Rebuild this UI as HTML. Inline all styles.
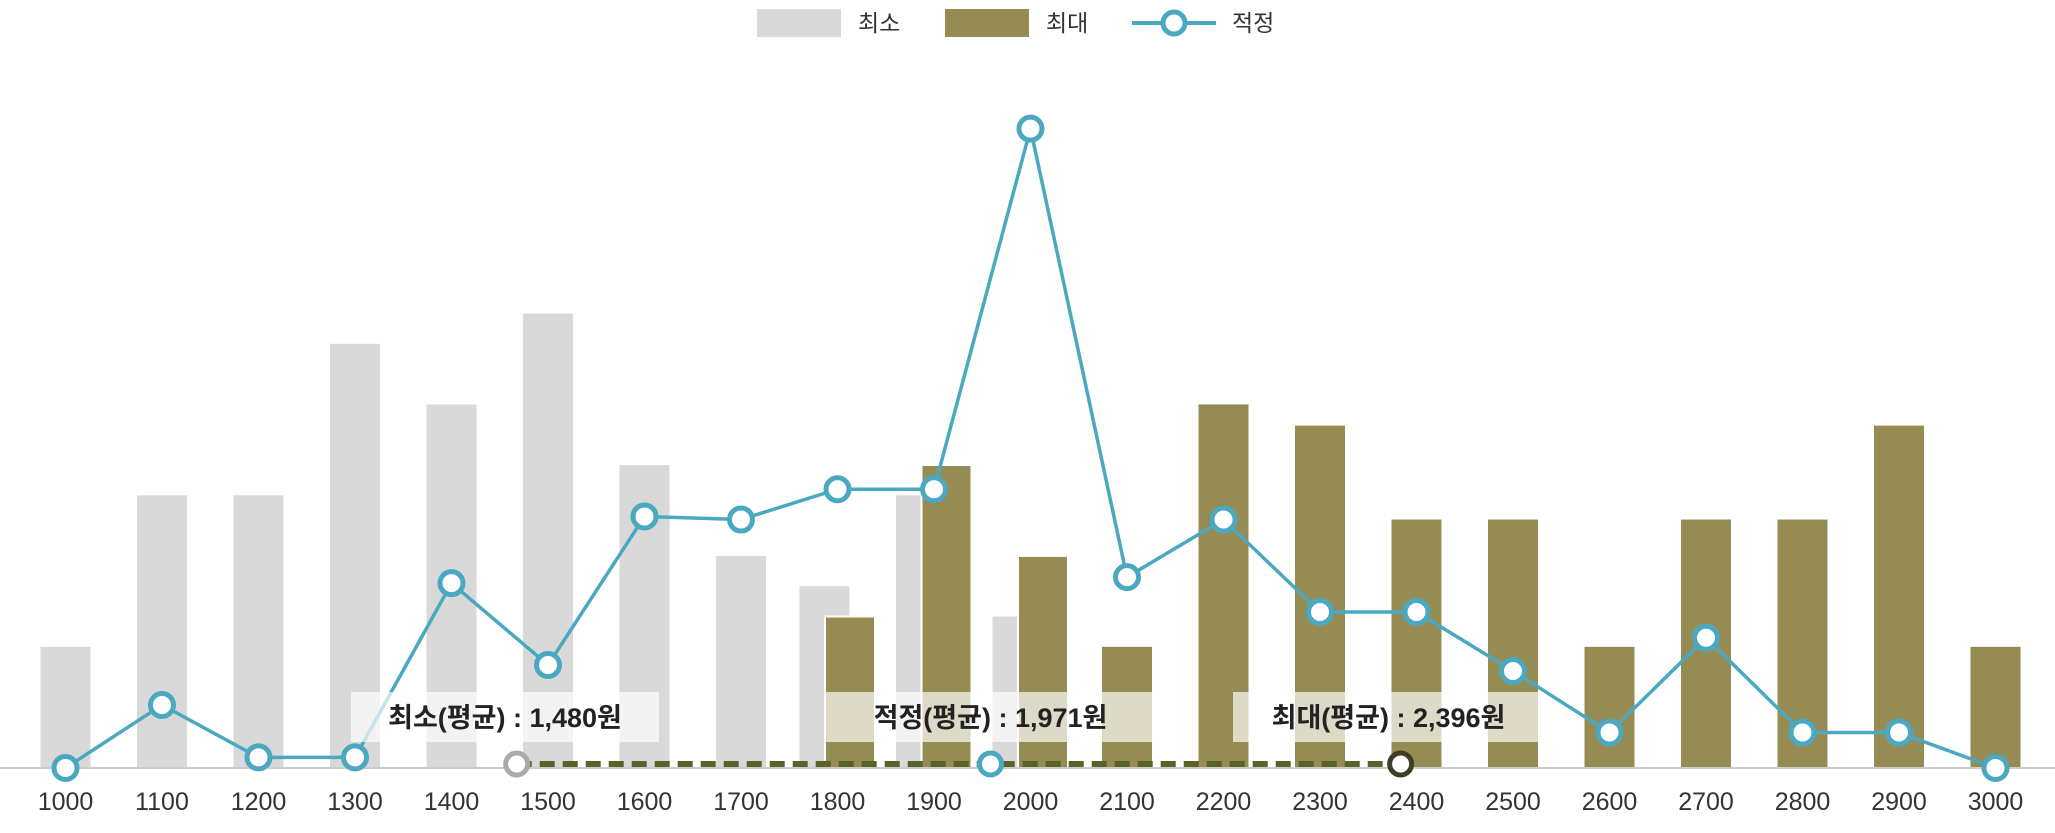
<!DOCTYPE html>
<html><head><meta charset="utf-8">
<style>
html,body{margin:0;padding:0;background:#fff;}
svg{display:block;font-family:"Liberation Sans","Noto Sans CJK KR",sans-serif;}
</style></head>
<body>
<svg id="chart" width="2055" height="833" viewBox="0 0 2055 833" xmlns="http://www.w3.org/2000/svg">
  <g>
    <rect x="757" y="9" width="84" height="28" fill="#d9d9d9"/>
    <text x="858" y="31" font-size="23" fill="#333">최소</text>
    <rect x="945" y="9" width="84" height="28" fill="#978b54"/>
    <text x="1046" y="31" font-size="23" fill="#333">최대</text>
    <line x1="1132" y1="23" x2="1216" y2="23" stroke="#4aa8c0" stroke-width="4"/>
    <circle cx="1174" cy="23" r="11" fill="#fff" stroke="#4aa8c0" stroke-width="5"/>
    <text x="1232" y="31" font-size="23" fill="#333">적정</text>
  </g>
  <g id="bars"></g>
  <line x1="0" y1="768" x2="2055" y2="768" stroke="#ccc" stroke-width="2"/>
  <g id="ticks"></g>
  <g id="avg"></g>
  <g id="line"></g>
  <g id="labels"></g>
</svg>
<script>
const categories = [1000,1100,1200,1300,1400,1500,1600,1700,1800,1900,2000,2100,2200,2300,2400,2500,2600,2700,2800,2900,3000];
const minValues = [4,9,9,14,12,15,10,7,6,9,5,null,null,null,null,null,null,null,null,null,null];
const maxValues = [null,null,null,null,null,null,null,null,5,10,7,4,12,11.3,8.2,8.2,4,8.2,8.2,11.3,4];
const optimalValues = [0,2.08,0.35,0.35,6.1,3.4,8.3,8.2,9.2,9.2,21.1,6.3,8.2,5.15,5.15,3.2,1.17,4.3,1.17,1.17,0];
const averageLabels = ["최소(평균) : 1,480원","적정(평균) : 1,971원","최대(평균) : 2,396원"];
const averageValues = [1480,1971,2396];

const NS = "http://www.w3.org/2000/svg";
const x0 = 65.5, step = 96.5, base = 768, unit = 30.3;
function xScale(i){ return x0 + i*step; }
function xVal(v){ return x0 + (v-1000)/100*step - 12; }
function yScale(v){ return base - v*unit; }
function mk(tag, attrs, parent){
  const e = document.createElementNS(NS, tag);
  for (const k in attrs) e.setAttribute(k, attrs[k]);
  parent.appendChild(e); return e;
}
const bars = document.getElementById('bars');
categories.forEach((c,i)=>{
  const cx = xScale(i);
  const both = minValues[i]!=null && maxValues[i]!=null;
  if (minValues[i]!=null){
    const r = mk('rect',{x: both? cx-38 : cx-25, y: yScale(minValues[i]), width:50, height: minValues[i]*unit, fill:'#d9d9d9'}, bars);
    
    
  }
  if (maxValues[i]!=null){
    const r = mk('rect',{x: both? cx-12.5 : cx-25, y: yScale(maxValues[i]), width:50, height: maxValues[i]*unit, fill:'#978b54', stroke: both?'#fff':'none', 'stroke-width':2}, bars);
    
    
  }
});
const ticks = document.getElementById('ticks');
categories.forEach((c,i)=>{
  const t = mk('text',{x: xScale(i), y: 810, 'text-anchor':'middle', 'font-size':25, fill:'#333'}, ticks);
  t.textContent = c;
  
  
});
// averages dashed line and markers
const avg = document.getElementById('avg');
const ay = 764;
const dl = mk('line',{x1: xVal(averageValues[0]), y1: ay, x2: xVal(averageValues[2]), y2: ay, stroke:'#5a6327', 'stroke-width':6, 'stroke-dasharray':'15 8'}, avg);


const avgColors = ['#aaaaaa','#4aa8c0','#3f3d25'];
averageValues.forEach((v,i)=>{
  const c = mk('circle',{cx: xVal(v), cy: ay, r: 11, fill:'#fff', stroke: avgColors[i], 'stroke-width':5}, avg);
  
  
});
// optimal line
const lineG = document.getElementById('line');
const pts = optimalValues.map((v,i)=> xScale(i) + ',' + yScale(v)).join(' ');
const pl = mk('polyline',{points: pts, fill:'none', stroke:'#4aa8c0', 'stroke-width':3.5}, lineG);


optimalValues.forEach((v,i)=>{
  const c = mk('circle',{cx: xScale(i), cy: yScale(v), r: 11.5, fill:'#fff', stroke:'#4aa8c0', 'stroke-width':5}, lineG);
  
  
});
// labels
const labelsG = document.getElementById('labels');
const boxes = [[351,308],[826,329],[1233,311]];
averageLabels.forEach((s,i)=>{
  const b = boxes[i];
  const r = mk('rect',{x:b[0], y:692, width:b[1], height:50, fill:'rgba(255,255,255,0.68)'}, labelsG);
  
  
  const t = mk('text',{x: b[0]+b[1]/2, y: 727, 'text-anchor':'middle', 'font-size':27, 'font-weight':'bold', fill:'#222'}, labelsG);
  t.textContent = s;
  
  
});
</script>
</body></html>
